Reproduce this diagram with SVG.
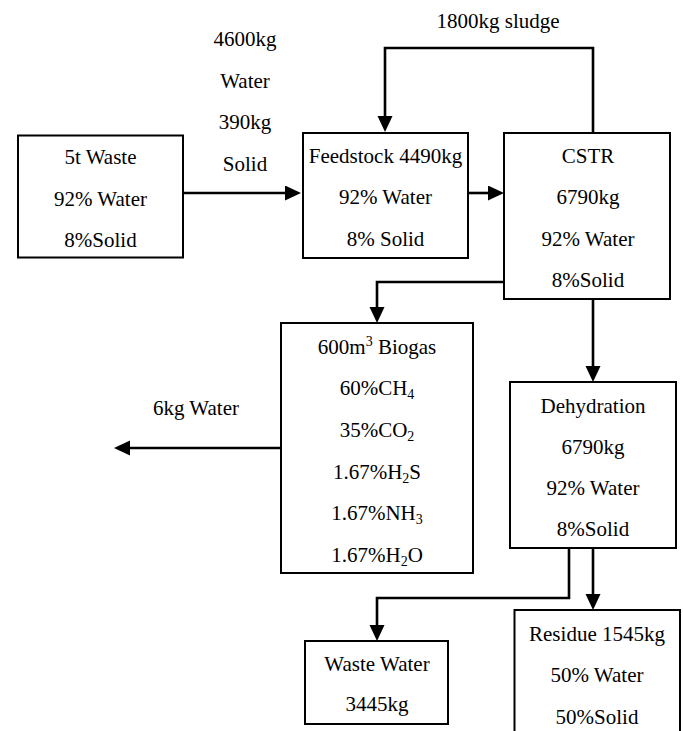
<svg xmlns="http://www.w3.org/2000/svg" width="683" height="731" viewBox="0 0 683 731" font-family="'Liberation Serif', 'Times New Roman', Times, serif">
<defs>
<marker id="ah" markerUnits="userSpaceOnUse" markerWidth="17" markerHeight="16" refX="6" refY="7.5" orient="auto">
<path d="M0,0 L16,7.5 L0,15 z" fill="#000"/>
</marker>
<style>
.box{fill:#fff;stroke:#000;stroke-width:2}
.t{font-size:21px;fill:#000;text-anchor:middle}
.c{fill:none;stroke:#000;stroke-width:2.6;marker-end:url(#ah)}
.s{font-size:14px}
</style>
</defs>
<rect width="683" height="731" fill="#fff"/>
<g id="connectors">
<path class="c" d="M183,193 H291"/>
<path class="c" d="M468,193 H494"/>
<path class="c" d="M593,133 V48 H385 V122"/>
<path class="c" d="M504,282 H377 V313"/>
<path class="c" d="M281,448 H124"/>
<path class="c" d="M593,299 V372"/>
<path class="c" d="M593,548 V600"/>
<path class="c" d="M569,548 V598 H377 V631"/>
</g>
<g id="label-input">
<text class="t" x="245" y="46">4600kg</text>
<text class="t" x="245" y="88">Water</text>
<text class="t" x="245" y="129">390kg</text>
<text class="t" x="245" y="171">Solid</text>
</g>
<g id="label-sludge">
<text class="t" x="498" y="28">1800kg sludge</text>
</g>
<g id="label-water">
<text class="t" x="196" y="415">6kg Water</text>
</g>
<g id="waste">
<rect class="box" x="18" y="135.5" width="165" height="122"/>
<text class="t" x="100.5" y="164">5t Waste</text>
<text class="t" x="100.5" y="206">92% Water</text>
<text class="t" x="100.5" y="247">8%Solid</text>
</g>
<g id="feedstock">
<rect class="box" x="303" y="133" width="165" height="125"/>
<text class="t" x="385.5" y="163">Feedstock 4490kg</text>
<text class="t" x="385.5" y="204">92% Water</text>
<text class="t" x="385.5" y="245.5">8% Solid</text>
</g>
<g id="cstr">
<rect class="box" x="504" y="133" width="166" height="166"/>
<text class="t" x="588" y="163">CSTR</text>
<text class="t" x="588" y="204">6790kg</text>
<text class="t" x="588" y="245.5">92% Water</text>
<text class="t" x="588" y="287">8%Solid</text>
</g>
<g id="biogas">
<rect class="box" x="281" y="323" width="192" height="250"/>
<text class="t" x="377" y="353.5">600m<tspan class="s" dy="-8">3</tspan><tspan dy="8"> Biogas</tspan></text>
<text class="t" x="377" y="395.3">60%CH<tspan class="s" dy="4">4</tspan></text>
<text class="t" x="377" y="437">35%CO<tspan class="s" dy="4">2</tspan></text>
<text class="t" x="377" y="478.7">1.67%H<tspan class="s" dy="4">2</tspan><tspan dy="-4">S</tspan></text>
<text class="t" x="377" y="520.3">1.67%NH<tspan class="s" dy="4">3</tspan></text>
<text class="t" x="377" y="562">1.67%H<tspan class="s" dy="4">2</tspan><tspan dy="-4">O</tspan></text>
</g>
<g id="dehydration">
<rect class="box" x="510" y="382" width="166" height="166"/>
<text class="t" x="593" y="413">Dehydration</text>
<text class="t" x="593" y="454">6790kg</text>
<text class="t" x="593" y="495.3">92% Water</text>
<text class="t" x="593" y="536.3">8%Solid</text>
</g>
<g id="wastewater">
<rect class="box" x="305" y="641" width="143" height="83"/>
<text class="t" x="377" y="671">Waste Water</text>
<text class="t" x="377" y="711">3445kg</text>
</g>
<g id="residue">
<rect class="box" x="514.5" y="610" width="165.5" height="140"/>
<text class="t" x="597" y="641">Residue 1545kg</text>
<text class="t" x="597" y="682">50% Water</text>
<text class="t" x="597" y="723.5">50%Solid</text>
</g>
</svg>
